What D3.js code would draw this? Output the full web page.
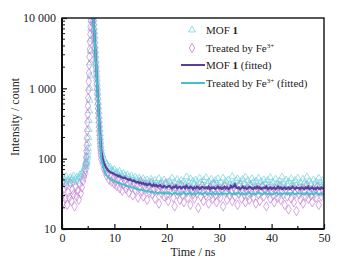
<!DOCTYPE html>
<html>
<head>
<meta charset="utf-8">
<script src="https://d3js.org/d3.v7.min.js"></script>
<style>
  body { margin: 0; background: #fff; }
  svg text { font-family: "Liberation Serif", "Times New Roman", "DejaVu Serif", serif !important; fill: #222; }
</style>
</head>
<body>
<svg id="chart"></svg>
<script>
// sample times (ns): coarse before the pulse, fine across it, coarse in the tail
var times = [].concat(
    d3.range(23).map(function(i) { return +(i * 0.2).toFixed(2); }),
    d3.range(61).map(function(i) { return +(4.5 + i * 0.05).toFixed(2); }),
    d3.range(170).map(function(i) { return +(7.75 + i * 0.25).toFixed(2); })
);

// MOF 1 counts (triangles)
var mofCounts = [
    48, 53, 45, 51, 56, 47, 50, 44, 54, 49, 52, 57, 46, 51, 55, 48, 53, 59, 56, 63, 61, 70, 76,
    82, 78, 88, 85, 95, 92, 105, 112, 125, 140, 165,
    200, 260, 350, 480, 680, 1000, 1500, 2300, 3400, 5000,
    7000, 9200, 11000, 12000, 12500, 12800, 12000, 11200, 10300, 9500,
    8400, 7300, 6400, 5500, 4700, 4000, 3400, 2950, 2500, 2150,
    1850, 1580, 1350, 1150, 990, 850, 730, 620, 540, 465,
    400, 345, 300, 262, 228, 200, 176, 156, 140, 125,
    112, 98, 90, 84, 78, 72, 75, 68, 66, 70,
    62, 64, 58, 66, 60, 55, 62, 57, 53, 59,
    54, 50, 57, 52, 48, 55, 51, 47, 53, 49,
    45, 52, 48, 44, 50, 46, 42, 51, 47, 43,
    49, 45, 41, 52, 44, 47, 40, 50, 43, 46,
    39, 48, 44, 53, 41, 46, 38, 51, 45, 42,
    49, 36, 47, 43, 55, 40, 45, 52, 38, 48,
    44, 50, 41, 37, 53, 46, 42, 49, 39, 54,
    43, 47, 40, 51, 45, 36, 49, 44, 52, 41,
    46, 39, 53, 43, 48, 37, 50, 44, 41, 56,
    45, 40, 48, 52, 42, 47, 38, 51, 44, 55,
    41, 49, 43, 36, 52, 46, 40, 48, 44, 53,
    39, 47, 42, 50, 45, 37, 49, 43, 54, 41,
    46, 40, 51, 44, 38, 48, 42, 55, 45, 39,
    50, 43, 47, 35, 52, 44, 40, 49, 42, 53,
    41, 46, 38, 51, 45, 42, 55, 40, 48, 44,
    37, 50, 43, 47, 41, 53, 45, 39, 49, 46
];

// Treated by Fe3+ counts (diamonds)
var treatedCounts = [
    30, 24, 38, 27, 42, 22, 33, 28, 45, 25, 36, 31, 21, 40, 29, 35, 26, 44, 32, 39, 48, 55, 62,
    70, 85, 105, 128, 155, 195, 250, 330, 430, 560, 730,
    950, 1250, 1650, 2150, 2800, 3600, 4600, 5900, 7500, 9300,
    11500, 13500, 15000, 15500, 15000, 14000, 12800, 11500, 10300, 9100,
    8000, 6900, 6000, 5100, 4400, 3700, 3200, 2700, 2300, 1950,
    1650, 1400, 1180, 1000, 850, 720, 610, 520, 445, 380,
    325, 280, 242, 210, 182, 160, 140, 124, 110, 98,
    85, 72, 66, 58, 62, 50, 55, 47, 52, 44,
    48, 41, 52, 38, 45, 35, 43, 50, 37, 42,
    33, 46, 39, 30, 44, 36, 41, 28, 38, 47,
    34, 29, 42, 37, 26, 40, 33, 45, 31, 36,
    27, 39, 35, 23, 41, 32, 37, 29, 44, 30,
    25, 36, 33, 40, 28, 21, 38, 31, 35, 26,
    42, 30, 24, 37, 33, 28, 39, 22, 34, 31,
    27, 38, 32, 20, 36, 29, 41, 25, 33, 30,
    35, 23, 39, 31, 27, 43, 30, 24, 37, 32,
    28, 36, 21, 40, 33, 26, 38, 30, 34, 25,
    39, 29, 35, 22, 32, 42, 27, 36, 31, 24,
    37, 30, 26, 41, 33, 28, 35, 23, 38, 31,
    25, 34, 40, 29, 36, 21, 32, 38, 27, 35,
    30, 24, 37, 33, 28, 41, 26, 35, 31, 22,
    36, 29, 19, 34, 27, 39, 24, 32, 18, 37,
    31, 26, 38, 23, 35, 29, 42, 27, 33, 30,
    24, 37, 32, 28, 40, 22, 34, 29, 36, 31
];

// fitted curves start at the top of the pulse
var fitTimes = times.filter(function(t) { return t >= 5.8; });

var mofFit = [
    13500, 12400, 11300, 10400, 9500,
    8400, 7400, 6500, 5700, 4900, 4200, 3600, 3100, 2650, 2250,
    1920, 1640, 1400, 1190, 1010, 865, 740, 635, 545, 470,
    405, 350, 303, 264, 231, 203, 179, 159, 142, 128,
    102, 88, 79, 73, 69, 66, 64, 63, 62, 60,
    59, 58, 56, 57, 55, 54, 53, 54, 52, 51,
    50, 51, 49, 48, 49, 47, 46, 47, 45, 46,
    44, 45, 43, 44, 42, 43, 44, 42, 41, 43,
    41, 42, 40, 41, 42, 40, 39, 41, 40, 39,
    40, 41, 39, 38, 40, 39, 41, 38, 39, 40,
    38, 39, 40, 38, 41, 39, 38, 40, 39, 37,
    39, 38, 40, 39, 37, 38, 40, 39, 38, 39,
    38, 40, 37, 39, 38, 39, 37, 38, 40, 38,
    39, 37, 38, 40, 38, 39, 37, 38, 41, 39,
    40, 43, 39, 38, 39, 37, 38, 40, 38, 39,
    37, 38, 40, 39, 38, 37, 39, 38, 40, 38,
    39, 37, 38, 39, 38, 40, 37, 38, 39, 37,
    38, 39, 37, 38, 40, 38, 39, 37, 38, 39,
    37, 38, 39, 37, 38, 40, 38, 37, 39, 38,
    38, 37, 39, 38, 37, 39, 38, 40, 37, 38,
    39, 37, 38, 37, 39, 38, 37, 39, 38, 37
];

var treatedFit = [
    14500, 13000, 11700, 10500, 9400,
    8300, 7300, 6400, 5500, 4750, 4100, 3500, 3000, 2550, 2170,
    1850, 1570, 1330, 1130, 960, 815, 695, 590, 505, 430,
    368, 315, 270, 232, 200, 173, 150, 131, 115, 101,
    82, 70, 63, 58, 55, 53, 51, 50, 49, 48,
    47, 46, 45, 45, 44, 43, 43, 42, 41, 41,
    40, 40, 39, 39, 38, 38, 37, 37, 36, 36,
    36, 35, 35, 35, 34, 34, 34, 33, 34, 33,
    33, 33, 32, 33, 33, 32, 33, 32, 33, 32,
    32, 33, 32, 31, 32, 33, 32, 31, 32, 32,
    31, 32, 33, 32, 31, 32, 32, 33, 31, 32,
    32, 31, 32, 33, 32, 32, 31, 32, 33, 32,
    31, 32, 32, 31, 33, 32, 31, 32, 32, 31,
    32, 33, 31, 32, 32, 31, 32, 33, 32, 31,
    32, 31, 32, 32, 33, 31, 32, 32, 31, 32,
    31, 32, 33, 32, 31, 32, 32, 31, 32, 33,
    32, 32, 31, 32, 33, 32, 31, 32, 32, 31,
    31, 32, 32, 33, 31, 32, 32, 31, 32, 32,
    32, 31, 32, 32, 31, 33, 32, 31, 32, 32,
    32, 32, 31, 32, 32, 31, 33, 32, 31, 32,
    32, 31, 32, 33, 32, 31, 32, 32, 31, 32
];

var xTicks = [0, 10, 20, 30, 40, 50];
var yTicks = [10, 100, 1000, 10000];
var yTickLabels = ["10", "100", "1 000", "10 000"];

var svgWidth = 348, svgHeight = 265;
var margin = { top: 18, right: 24, bottom: 36, left: 62 },
    width = svgWidth - margin.left - margin.right,
    height = svgHeight - margin.top - margin.bottom;

var serif = '"Liberation Serif", "Times New Roman", "DejaVu Serif", serif';

var triColor = "#72d5dc",
    diaColor = "#c482d2",
    mofLineColor = "#5a3e9e",
    treatedLineColor = "#3fc2ca";

var svg = d3.select("#chart")
    .attr("width", svgWidth)
    .attr("height", svgHeight)
    .style("font-family", serif);

var chart = svg.append("g")
    .attr("transform", "translate(" + margin.left + "," + margin.top + ")");

var xScale = d3.scaleLinear().domain([0, 50]).range([0, width]);
var yScale = d3.scaleLog().domain([10, 10000]).range([height, 0]);

chart.append("clipPath").attr("id", "plotclip")
    .append("rect").attr("width", width).attr("height", height);

var plot = chart.append("g").attr("clip-path", "url(#plotclip)");

// scatter: triangles then diamonds
var tri = d3.symbol().type(d3.symbolTriangle).size(20);
var dia = d3.symbol().type(d3.symbolDiamond).size(26);

plot.append("g").selectAll("path")
    .data(times.map(function(t, i) { return [t, mofCounts[i]]; }))
    .enter().append("path")
    .attr("d", tri)
    .attr("transform", function(d) { return "translate(" + xScale(d[0]) + "," + yScale(d[1]) + ")"; })
    .attr("fill", "none")
    .attr("stroke", triColor)
    .attr("stroke-width", 0.7);

plot.append("g").selectAll("path")
    .data(times.map(function(t, i) { return [t, treatedCounts[i]]; }))
    .enter().append("path")
    .attr("d", dia)
    .attr("transform", function(d) { return "translate(" + xScale(d[0]) + "," + yScale(d[1]) + ")"; })
    .attr("fill", "none")
    .attr("stroke", diaColor)
    .attr("stroke-width", 0.7);

// fitted curves
var line = d3.line()
    .x(function(d) { return xScale(d[0]); })
    .y(function(d) { return yScale(d[1]); });

plot.append("path")
    .datum(fitTimes.map(function(t, i) { return [t, mofFit[i]]; }))
    .attr("d", line)
    .attr("fill", "none")
    .attr("stroke", mofLineColor)
    .attr("stroke-width", 2.2);

plot.append("path")
    .datum(fitTimes.map(function(t, i) { return [t, treatedFit[i]]; }))
    .attr("d", line)
    .attr("fill", "none")
    .attr("stroke", treatedLineColor)
    .attr("stroke-width", 2);

// frame
chart.append("rect")
    .attr("width", width).attr("height", height)
    .attr("fill", "none").attr("stroke", "#111").attr("stroke-width", 1.4);
chart.append("line").attr("x1", 0).attr("x2", 0).attr("y1", 0).attr("y2", height)
    .attr("stroke", "#111").attr("stroke-width", 2);
chart.append("line").attr("x1", 0).attr("x2", width).attr("y1", height).attr("y2", height)
    .attr("stroke", "#111").attr("stroke-width", 2);

// x axis, ticks pointing in
var xAxis = d3.axisBottom(xScale).tickValues(xTicks).tickSize(-5).tickPadding(4)
    .tickFormat(d3.format("d"));
var gx = chart.append("g")
    .attr("transform", "translate(0," + height + ")")
    .call(xAxis)
    .attr("font-family", null);
gx.select(".domain").remove();
gx.selectAll("text").attr("font-size", 12).style("font-family", serif);
gx.selectAll("line").attr("stroke", "#111").attr("stroke-width", 1.2);

chart.append("g").selectAll("line")
    .data([5, 15, 25, 35, 45]).enter().append("line")
    .attr("x1", xScale).attr("x2", xScale)
    .attr("y1", height).attr("y2", height - 3)
    .attr("stroke", "#111").attr("stroke-width", 1.2);

// y axis
var yAxis = d3.axisLeft(yScale).tickValues(yTicks).tickSize(-5).tickPadding(6)
    .tickFormat(function(d, i) { return yTickLabels[i]; });
var gy = chart.append("g").call(yAxis).attr("font-family", null);
gy.select(".domain").remove();
gy.selectAll("text").attr("font-size", 12).style("font-family", serif);
gy.selectAll("line").attr("stroke", "#111").attr("stroke-width", 1.2);

var minor = [];
[10, 100, 1000].forEach(function(dec) {
    for (var k = 2; k <= 9; k++) minor.push(dec * k);
});
chart.append("g").selectAll("line")
    .data(minor).enter().append("line")
    .attr("x1", 0).attr("x2", 3)
    .attr("y1", yScale).attr("y2", yScale)
    .attr("stroke", "#111").attr("stroke-width", 1);

// axis titles
svg.append("text")
    .attr("x", margin.left + width / 2)
    .attr("y", 256)
    .attr("text-anchor", "middle")
    .attr("font-size", 12)
    .text("Time / ns");

svg.append("text")
    .attr("transform", "translate(19," + 117 + ") rotate(-90)")
    .attr("text-anchor", "middle")
    .attr("font-size", 12)
    .text("Intensity / count");

// legend
var legend = svg.append("g").attr("font-size", 11);
var rows = [30, 48, 65, 83];

legend.append("path").attr("d", tri)
    .attr("transform", "translate(192," + rows[0] + ")")
    .attr("fill", "none").attr("stroke", triColor).attr("stroke-width", 0.8);
legend.append("path").attr("d", dia)
    .attr("transform", "translate(192," + rows[1] + ")")
    .attr("fill", "none").attr("stroke", diaColor).attr("stroke-width", 0.8);
legend.append("line").attr("x1", 181).attr("x2", 205)
    .attr("y1", rows[2]).attr("y2", rows[2])
    .attr("stroke", mofLineColor).attr("stroke-width", 2);
legend.append("line").attr("x1", 181).attr("x2", 205)
    .attr("y1", rows[3]).attr("y2", rows[3])
    .attr("stroke", treatedLineColor).attr("stroke-width", 2);

function mofLabel(sel, fitted) {
    var t = sel.append("text").attr("x", 206);
    t.append("tspan").text("MOF ");
    t.append("tspan").attr("font-weight", "bold").text("1");
    if (fitted) t.append("tspan").text(" (fitted)");
    return t;
}
function feLabel(sel, fitted) {
    var t = sel.append("text").attr("x", 206);
    t.append("tspan").text("Treated by Fe");
    t.append("tspan").attr("font-size", 7).attr("dy", -4).text("3+");
    if (fitted) t.append("tspan").attr("dy", 4).text(" (fitted)");
    return t;
}

mofLabel(legend, false).attr("y", rows[0] + 4);
feLabel(legend, false).attr("y", rows[1] + 4);
mofLabel(legend, true).attr("y", rows[2] + 4);
feLabel(legend, true).attr("y", rows[3] + 4);
</script>
</body>
</html>
